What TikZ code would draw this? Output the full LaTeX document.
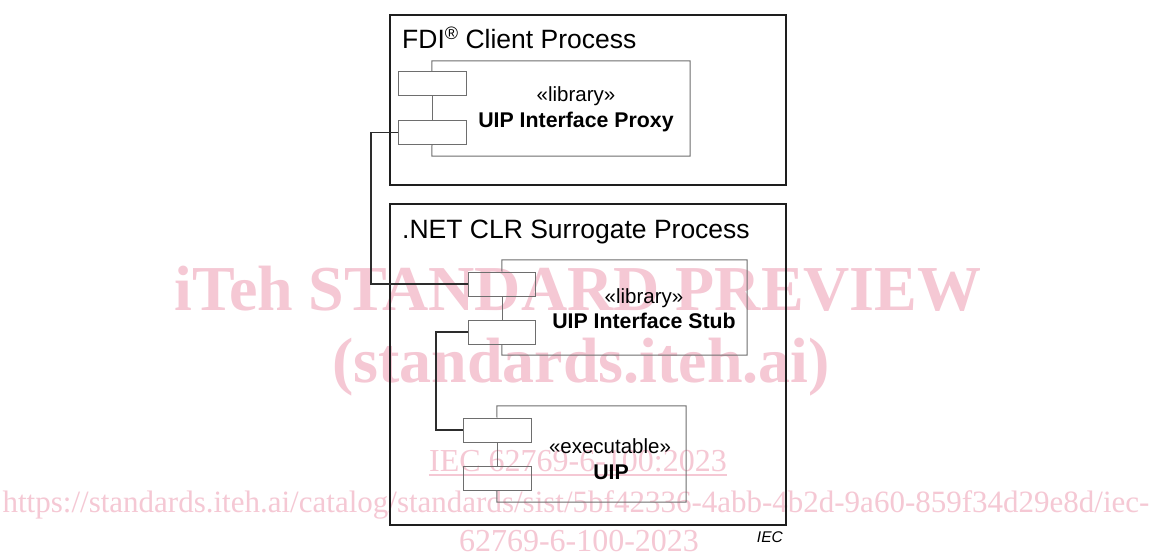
\documentclass[tikz,border=0pt]{standalone}
\usepackage{graphicx}
\usepackage{fontspec}
\setmainfont{Liberation Sans}
\newfontfamily\wmfont{Liberation Serif}
\definecolor{wmpink}{RGB}{245,200,212}
\definecolor{boxline}{RGB}{30,30,30}
\definecolor{compline}{RGB}{110,110,110}
\definecolor{connline}{RGB}{45,45,45}
\begin{document}
\begin{tikzpicture}[x=1pt,y=-1pt,
  outer/.style={draw=boxline, line width=2pt, minimum width=396pt, inner sep=0pt, anchor=north west},
  port/.style={draw=compline, line width=1pt, minimum width=68pt, minimum height=24pt, inner sep=0pt},
  compbody/.style={inner sep=0pt},
  compedge/.style={draw=compline, line width=1pt},
  conn/.style={draw=connline, line width=1.5pt},
  title/.style={anchor=base west, inner sep=0pt, font=\fontsize{26.5}{30}\selectfont},
  stereo/.style={anchor=base, inner sep=0pt, font=\fontsize{20.5}{24}\selectfont},
  cname/.style={anchor=base, inner sep=0pt, font=\fontsize{21.3}{24}\selectfont\bfseries},
  wmbig/.style={anchor=base, inner sep=0pt, text=wmpink, font=\wmfont\bfseries\fontsize{64}{70}\selectfont},
  wmsmall/.style={anchor=base, inner sep=0pt, text=wmpink, font=\wmfont\fontsize{32}{36}\selectfont}
]
\useasboundingbox (0,0) rectangle (1151,556);
\fill[white] (0,0) rectangle (1151,556);

% watermark
\node[wmbig] (w1) at (578,310) {iTeh STANDARD PREVIEW};
\node[wmbig] (w2) at (581,382) {(standards.iteh.ai)};
\node[wmsmall] (w3) at (578,471) {IEC 62769-6-100:2023};
\draw[wmpink, line width=2pt] ([yshift=-4pt]w3.base west) -- ([yshift=-4pt]w3.base east);
\node[wmsmall, font=\wmfont\fontsize{31}{36}\selectfont] (w4) at (576,512) {https://standards.iteh.ai/catalog/standards/sist/5bf42336-4abb-4b2d-9a60-859f34d29e8d/iec-};
\node[wmsmall] (w5) at (579,551) {62769-6-100-2023};

% outer boxes
\node[outer, minimum height=170pt] (fdi) at (389,14) {};
\node[outer, minimum height=321pt] (clr) at (389,203) {};
\node[title] (fdit) at (402,49) {FDI\raisebox{9pt}{\fontsize{18}{18}\selectfont ®} Client Process};
\node[title] (clrt) at (402,238) {.NET CLR Surrogate Process};

% component 1: proxy
\node[compbody, minimum width=258pt, minimum height=95pt] (c1) at (561,108.5) {};
\node[port] (p1a) at (432,84) {};
\node[port] (p1b) at (432,132.5) {};
\draw[compedge] (p1a.north) -- (c1.north west) -- (c1.north east) -- (c1.south east) -- (c1.south west) -- (p1b.south);
\draw[compedge] (p1a.south) -- (p1b.north);
\node[stereo] (c1s) at (576,102) {«library»};
\node[cname] (c1n) at (576,128) {UIP Interface Proxy};

% component 2: stub
\node[compbody, minimum width=245pt, minimum height=95pt] (c2) at (624.5,307.5) {};
\node[port, minimum width=67pt] (p2a) at (502,284) {};
\node[port, minimum width=67pt] (p2b) at (502,332) {};
\draw[compedge] (p2a.north) -- (c2.north west) -- (c2.north east) -- (c2.south east) -- (c2.south west) -- (p2b.south);
\draw[compedge] (p2a.south) -- (p2b.north);
\node[stereo] (c2s) at (644,303) {«library»};
\node[cname] (c2n) at (644,328) {UIP Interface Stub};

% component 3: UIP
\node[compbody, minimum width=189pt, minimum height=96pt] (c3) at (591.5,454) {};
\node[port] (p3a) at (497,430) {};
\node[port] (p3b) at (497,478) {};
\draw[compedge] (p3a.north) -- (c3.north west) -- (c3.north east) -- (c3.south east) -- (c3.south west) -- (p3b.south);
\draw[compedge] (p3a.south) -- (p3b.north);
\node[stereo] (c3s) at (610,453) {«executable»};
\node[cname] (c3n) at (611,479) {UIP};

% connectors
\coordinate (k1) at (371,200);
\coordinate (k2) at (436,380);
\draw[conn] (p1b.west) -| (k1) |- (p2a.west);
\draw[conn] (p2b.west) -| (k2) |- (p3a.west);

% IEC label
\node[anchor=base east, inner sep=0pt, font=\fontsize{15.5}{18}\selectfont\itshape] (iec) at (783,542) {IEC};
\end{tikzpicture}
\end{document}
